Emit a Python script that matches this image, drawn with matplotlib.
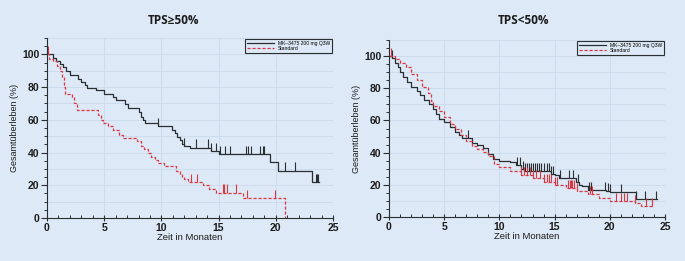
import numpy as np
import matplotlib
matplotlib.use("Agg")
import matplotlib.pyplot as plt
from matplotlib.ticker import MultipleLocator

# ---------------- data ----------------
titles = ["TPS\u226550%", "TPS<50%"]
legend_labels = ["MK\u20133475 200 mg Q3W", "Standard"]
xlabel = "Zeit in Monaten"
ylabel = "Gesamt\u00fcberleben (%)"

# Left panel (TPS>=50%)
l_mk_t = [0, 0.5, 0.8, 1.1, 1.4, 1.7, 2.0, 2.7, 3.0, 3.3, 3.5, 4.3, 5.0, 5.8, 6.0, 6.8, 7.1,
          8.0, 8.2, 8.4, 8.6, 9.7, 10.9, 11.2, 11.4, 11.6, 11.8, 12.0, 12.5, 14.3, 15.0,
          19.5, 20.2, 23.2]
l_mk_s = [100, 98, 96, 94, 92, 90, 87.5, 85, 83, 81, 79.5, 78, 76, 74, 72, 69.5, 67,
          65, 62, 60, 58, 56, 54, 52, 49.5, 47.5, 45.5, 44, 43, 41, 39,
          34, 29, 22]
l_mk_end = 23.8
l_mk_cens = [9.7, 12.0, 13.0, 14.1, 14.3, 14.8, 15.1, 15.6, 16.0, 17.4, 17.6, 17.8,
             18.6, 18.9, 19.0, 20.8, 21.7, 23.5, 23.6, 23.7]

l_st_t = [0, 0.2, 0.5, 0.9, 1.1, 1.3, 1.5, 1.6, 2.2, 2.4, 2.6, 4.5, 4.7, 4.9, 5.3, 5.8,
          6.3, 6.6, 7.9, 8.2, 8.5, 8.8, 9.1, 9.4, 9.7, 10.2, 11.3, 11.6, 11.8, 12.0,
          12.3, 13.6, 14.2, 14.8, 17.1, 20.8]
l_st_s = [100, 97, 96, 93, 90, 86, 80, 76, 74, 70, 66, 63, 60, 58, 56, 54,
          51, 49, 47, 44, 42, 39.5, 37.5, 35.5, 33.5, 31.5, 29, 27, 25, 24,
          22, 20, 18, 15.5, 12, 0]
l_st_end = 20.8
l_st_cens = [0.05, 12.6, 13.1, 15.4, 15.5, 15.7, 16.5, 17.5, 19.9]

# Right panel (TPS<50%)
r_mk_t = [0, 0.3, 0.5, 0.8, 1.0, 1.3, 1.6, 2.0, 2.5, 2.8, 3.2, 3.6, 4.0, 4.3, 4.5, 5.0,
          5.5, 6.0, 6.3, 6.6, 7.5, 8.0, 8.5, 9.0, 9.4, 10.0, 11.0, 11.5, 12.0, 12.2,
          14.7, 15.0, 15.4, 16.9, 17.2, 17.5, 18.0, 19.7, 20.0, 22.4]
r_mk_s = [100, 99, 96, 93, 90, 87, 84, 81, 78, 76, 73, 70, 67, 64, 61, 59,
          56, 53, 51, 49, 46, 45, 43, 39, 36, 35, 34, 32.5, 30, 28.5,
          27, 26, 24, 22, 20, 19.5, 17, 16, 15.5, 11]
r_mk_end = 24.3
r_mk_cens = [0.3, 7.2, 11.6, 11.9, 12.1, 12.3, 12.5, 12.7, 12.9, 13.0, 13.2, 13.4, 13.6,
             13.8, 14.0, 14.3, 14.5, 14.7, 14.9, 15.5, 16.3, 16.7, 17.1, 18.1, 18.3,
             19.6, 19.8, 20.0, 21.0, 22.4, 23.2, 24.2]

r_st_t = [0, 0.5, 1.0, 1.5, 2.0, 2.5, 3.0, 3.5, 3.8, 4.0, 4.5, 5.0, 5.5, 6.0, 6.5, 7.0,
          7.5, 8.0, 8.5, 9.0, 9.5, 10.0, 11.0, 12.0, 13.0, 14.0, 15.0, 16.0, 17.0,
          18.0, 19.0, 20.0, 22.3, 22.8]
r_st_s = [100, 98, 96, 93, 89, 85, 81, 77, 72, 69, 66, 62, 58, 55, 51, 47,
          44, 42, 40.5, 38, 33, 31, 28.5, 26, 24, 22, 20, 18, 16,
          14.5, 12, 10, 8.5, 7]
r_st_end = 23.9
r_st_cens = [0.2, 12.0, 12.2, 12.5, 12.8, 13.0, 13.3, 13.7, 14.0, 14.3, 14.5, 14.7,
             15.0, 15.2, 16.2, 16.4, 16.5, 16.6, 16.8, 17.0, 18.2, 18.4, 20.6, 21.0,
             21.3, 21.6, 22.3, 23.3, 23.8]

# ---------------- style ----------------
BG = "#dde9f6"
GRID = "#cbdaec"
BLACK = "#2a2f33"
RED = "#dc3540"
TXT = "#1c1c1c"

plt.rcParams['font.family'] = ['Liberation Sans', 'DejaVu Sans']

fig = plt.figure(figsize=(6.85, 2.61), dpi=100, facecolor=BG)


def step_curve(ax, t, s, end, cens, color, ls, label):
    t = np.asarray(t, float)
    s = np.asarray(s, float)
    tt = np.append(t, end)
    ss = np.append(s, s[-1])
    line, = ax.step(tt, ss, where='post', color=color, ls=ls, lw=0.9,
                    label=label, dashes=(2.5, 1.5) if ls == '--' else (None, None))
    cens = np.asarray(cens, float)
    idx = np.searchsorted(t, cens, side='right') - 1
    base = s[idx]
    ax.vlines(cens, base, base + 5, color=color, lw=0.8)
    return line


def make_axes(rect, title, curves, title_x):
    ax = fig.add_axes(rect)
    ax.set_facecolor(BG)
    for sp in ['top', 'right']:
        ax.spines[sp].set_visible(False)
    for sp in ['left', 'bottom']:
        ax.spines[sp].set_color(BLACK)
        ax.spines[sp].set_linewidth(0.8)
    ax.set_xlim(0, 25)
    ax.set_ylim(0, 110)
    ax.xaxis.set_major_locator(MultipleLocator(5))
    ax.xaxis.set_minor_locator(MultipleLocator(1))
    ax.yaxis.set_major_locator(MultipleLocator(20))
    ax.yaxis.set_minor_locator(MultipleLocator(5))
    ax.tick_params(axis='x', which='major', direction='inout', length=5, width=0.8,
                   colors=BLACK, labelsize=7.5, pad=1, labelcolor=TXT)
    ax.tick_params(axis='x', which='minor', direction='in', length=2.5, width=0.7,
                   colors=BLACK)
    ax.tick_params(axis='y', which='major', direction='out', length=4, width=0.8,
                   colors=BLACK, labelsize=7.5, pad=1.5, labelcolor=TXT)
    ax.tick_params(axis='y', which='minor', direction='out', length=2, width=0.7,
                   colors=BLACK)
    for lab in ax.get_xticklabels() + ax.get_yticklabels():
        lab.set_fontweight('bold')
    # grid
    for x in range(5, 26, 5):
        ax.axvline(x, color=GRID, lw=0.6, zorder=0)
    for y in range(10, 111, 10):
        ax.axhline(y, color=GRID, lw=0.6, zorder=0)
    ax.set_xlabel(xlabel, fontsize=6.8, labelpad=0, color=TXT)
    ax.set_ylabel(ylabel, fontsize=6.5, labelpad=2, color=TXT)
    handles = []
    for (t, s, end, cens, color, ls, label) in curves:
        handles.append(step_curve(ax, t, s, end, cens, color, ls, label))
    leg = ax.legend(handles=handles, loc='upper right', bbox_to_anchor=(1.0, 1.0),
                    fontsize=3.6, frameon=True, fancybox=False, handlelength=5.5,
                    borderpad=0.3, labelspacing=0.1, handletextpad=0.8,
                    borderaxespad=0.2)
    leg.get_frame().set_edgecolor(BLACK)
    leg.get_frame().set_linewidth(0.8)
    leg.get_frame().set_facecolor(BG)
    leg.get_frame().set_alpha(1)
    fig.text(title_x, 1 - 20 / 261, title, ha='center', va='center',
             fontsize=8.5, fontweight='bold', color=TXT, family=['Open Sans', 'DejaVu Sans'])
    return ax


make_axes([47 / 685, 1 - 218 / 261, (333 - 47) / 685, (218 - 38) / 261], titles[0],
          [(l_mk_t, l_mk_s, l_mk_end, l_mk_cens, BLACK, '-', legend_labels[0]),
           (l_st_t, l_st_s, l_st_end, l_st_cens, RED, '--', legend_labels[1])],
          173 / 685)
make_axes([389 / 685, 1 - 217 / 261, (665 - 389) / 685, (217 - 40) / 261], titles[1],
          [(r_mk_t, r_mk_s, r_mk_end, r_mk_cens, BLACK, '-', legend_labels[0]),
           (r_st_t, r_st_s, r_st_end, r_st_cens, RED, '--', legend_labels[1])],
          523 / 685)

fig.savefig("out.png", dpi=100, facecolor=BG)
